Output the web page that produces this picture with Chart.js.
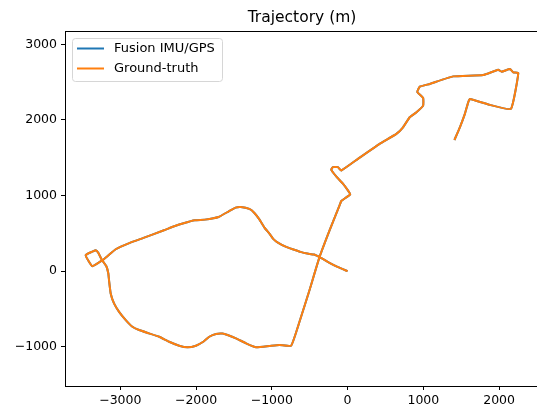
<!DOCTYPE html>
<html>
<head>
<meta charset="utf-8">
<script src="https://cdn.jsdelivr.net/npm/chart.js@4.4.1/dist/chart.umd.min.js"></script>
<style>
  html, body { margin: 0; padding: 0; background: #fff; }
  canvas { display: block; }
</style>
</head>
<body>
<canvas id="trajChart" width="537" height="408"></canvas>
<script>
// Trajectory points (m), starting at the origin
const gtX = [0, -126, -239, -351, -441, -532, -622, -712, -811, -915, -982, -1032, -1095, -1162, -1230, -1297, -1410, -1478, -1568, -1703,
  -1883, -2018, -2153, -2289, -2424, -2694, -2874, -3060, -3171, -3237, -3369, -3457, -3325, -3290, -3246, -3184, -3158, -3149, -3127, -3083,
  -3016, -2928, -2840, -2752, -2620, -2487, -2355, -2223, -2113, -2002, -1900, -1826, -1737, -1650, -1584, -1473, -1340, -1208, -1032, -900,
  -745, -635, -503, -370, -238, -106, -97, -84, 35, 4, -62, -150, -216, -194, -128, -84, 137, 423, 644, 732,
  820, 909, 997, 997, 920, 953, 1085, 1393, 1790, 1988, 2033, 2143, 2187, 2253, 2156, 1879, 1614, 1592, 1548, 1482, 1410];
const gtY = [0, 53, 110, 176, 220, 233, 255, 286, 321, 374, 427, 497, 572, 682, 770, 823, 849, 840, 792, 717,
  682, 673, 638, 594, 541, 440, 374, 290, 198, 145, 66, 211, 277, 242, 154, 66, -30, -119, -294, -426,
  -537, -646, -735, -778, -822, -867, -933, -985, -1006, -985, -930, -867, -830, -825, -844, -888, -954, -1006, -989, -976,
  -985, -669, -251, 189, 541, 871, 893, 928, 1016, 1068, 1157, 1253, 1341, 1376, 1376, 1332, 1486, 1684, 1816, 1903,
  2035, 2101, 2190, 2290, 2370, 2440, 2476, 2576, 2594, 2664, 2638, 2673, 2629, 2620, 2146, 2199, 2278, 2233, 2080, 1903, 1735];

const xTicks = [-3000, -2000, -1000, 0, 1000, 2000];
const yTicks = [-1000, 0, 1000, 2000, 3000];
const seriesNames = ['Fusion IMU/GPS', 'Ground-truth'];
const seriesColors = ['#1f77b4', '#ff7f0e'];
const titleText = 'Trajectory (m)';

const FONT = '"DejaVu Sans", sans-serif';

function toPoints(xs, ys) {
  return xs.map((x, i) => ({ x: x, y: ys[i] }));
}

function fmt(v) {
  return v < 0 ? '\u2212' + Math.abs(v) : String(v);
}

// title, top spine and the matplotlib-like legend box
const decor = {
  id: 'decor',
  afterDraw(chart) {
    const ctx = chart.ctx;
    const a = chart.chartArea;
    ctx.save();
    ctx.strokeStyle = '#000';
    ctx.lineWidth = 1;
    ctx.beginPath();
    ctx.moveTo(a.left, a.top + 0.5);
    ctx.lineTo(a.right, a.top + 0.5);
    ctx.stroke();

    ctx.fillStyle = '#000';
    ctx.font = '15.5px ' + FONT;
    ctx.textAlign = 'center';
    ctx.textBaseline = 'alphabetic';
    ctx.fillText(titleText, 302, 22);

    // legend
    ctx.beginPath();
    ctx.roundRect(72.5, 38.5, 150, 43, 3);
    ctx.fillStyle = 'rgba(255,255,255,0.8)';
    ctx.fill();
    ctx.strokeStyle = '#d6d6d6';
    ctx.stroke();
    ctx.font = '13px ' + FONT;
    ctx.textAlign = 'left';
    ctx.textBaseline = 'middle';
    seriesNames.forEach((name, i) => {
      const y = 48.5 + i * 20;
      ctx.strokeStyle = seriesColors[i];
      ctx.lineWidth = 2;
      ctx.beginPath();
      ctx.moveTo(77, y);
      ctx.lineTo(104, y);
      ctx.stroke();
      ctx.fillStyle = '#000';
      ctx.fillText(name, 114, y + 0.5);
    });
    ctx.restore();
  }
};

const ctx = document.getElementById('trajChart').getContext('2d');
const trajChart = new Chart(ctx, {
  type: 'scatter',
  data: {
    datasets: [
      {
        label: seriesNames[0],
        data: toPoints(gtX, gtY),
        borderColor: seriesColors[0],
        backgroundColor: seriesColors[0],
        showLine: true,
        pointRadius: 0,
        borderWidth: 2,
        tension: 0.12,
        borderJoinStyle: 'round',
        order: 1
      },
      {
        label: seriesNames[1],
        data: toPoints(gtX, gtY),
        borderColor: seriesColors[1],
        backgroundColor: seriesColors[1],
        showLine: true,
        pointRadius: 0,
        borderWidth: 2,
        tension: 0.12,
        borderJoinStyle: 'round',
        order: 0
      }
    ]
  },
  options: {
    responsive: false,
    animation: false,
    devicePixelRatio: 1,
    layout: { padding: { top: 31, right: 0, left: 0, bottom: 0 } },
    plugins: {
      legend: { display: false },
      title: { display: false },
      tooltip: { enabled: false }
    },
    scales: {
      x: {
        type: 'linear',
        min: -3730,
        max: 2500,
        afterBuildTicks: axis => { axis.ticks = xTicks.map(v => ({ value: v })); },
        afterFit: axis => { axis.height = 22; },
        grid: { drawOnChartArea: false, drawTicks: true, tickLength: 4, color: '#000' },
        border: { display: true, color: '#000', width: 1 },
        ticks: { color: '#000', padding: 3, maxRotation: 0, font: { family: FONT, size: 12.5 }, callback: v => fmt(v) }
      },
      y: {
        type: 'linear',
        min: -1518,
        max: 3176,
        afterBuildTicks: axis => { axis.ticks = yTicks.map(v => ({ value: v })); },
        afterFit: axis => { axis.width = 65; },
        grid: { drawOnChartArea: false, drawTicks: true, tickLength: 4, color: '#000' },
        border: { display: true, color: '#000', width: 1 },
        ticks: { color: '#000', padding: 4, font: { family: FONT, size: 12.5 }, callback: v => fmt(v) }
      }
    }
  },
  plugins: [decor]
});
</script>
</body>
</html>
